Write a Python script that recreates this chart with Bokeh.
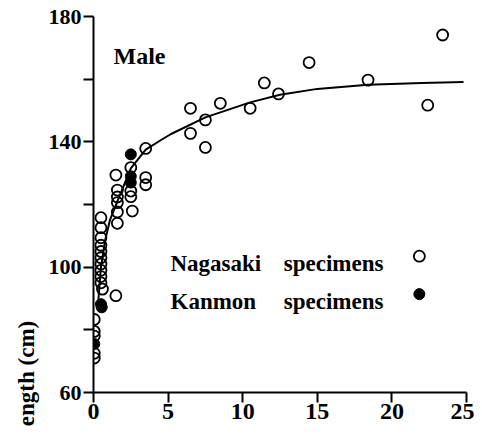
from bokeh.plotting import figure
from bokeh.models import FixedTicker, Label, Range1d, Title
from bokeh.embed import file_html
from bokeh.resources import INLINE

# ---- data ----
nagasaki_age = [0.05, 0.05, 0.05, 0.05, 0.05,
                0.5, 0.5, 0.5, 0.5, 0.5, 0.5, 0.5, 0.5, 0.5, 0.5, 0.6,
                1.5, 1.6, 1.6, 1.6, 1.6, 1.6, 1.5,
                2.5, 2.5, 2.5, 2.6,
                3.5, 3.5, 3.5,
                6.5, 6.5, 7.5, 7.5, 8.5, 10.5, 11.45, 12.4, 14.45, 18.4, 22.4, 23.4]
nagasaki_len = [83.3, 79.5, 78.0, 72.5, 71.0,
                115.8, 112.6, 109.4, 107.0, 105.0, 103.0, 101.0, 99.0, 97.0, 95.0, 93.0,
                129.4, 124.6, 122.4, 120.6, 117.6, 114.0, 90.9,
                131.8, 124.3, 122.5, 117.9,
                137.9, 128.6, 126.3,
                150.7, 142.7, 147.0, 138.2, 152.3, 150.7, 158.8, 155.3, 165.3, 159.7, 151.7, 174.1]
kanmon_age = [2.5, 2.5, 2.5, 0.5, 0.55, 0.05]
kanmon_len = [136.0, 129.0, 127.0, 88.2, 87.2, 75.5]

curve_age = [0.3, 0.5, 0.8, 1.1, 1.6, 2.5, 3.5, 4.5, 5.2, 7.5, 10.5, 12.5, 15.0, 18.4, 22.0, 24.8]
curve_len = [88.0, 100.0, 109.0, 115.0, 121.0, 131.5, 137.5, 140.5, 142.5, 147.8, 152.6, 155.0, 156.9, 158.2, 158.8, 159.1]

x_ticks = [0, 5, 10, 15, 20, 25]
y_ticks = [60, 100, 140, 180]
y_minor = [80, 120, 160]

FONT = "Liberation Serif"

p = figure(width=474, height=427, output_backend="svg", toolbar_location=None,
           x_range=Range1d(0, 25), y_range=Range1d(60, 180),
           min_border_left=93, min_border_right=8, min_border_top=16, min_border_bottom=35)
p.outline_line_color = None
p.background_fill_color = "white"
p.border_fill_color = "white"
p.xgrid.visible = False
p.ygrid.visible = False

for ax in (p.xaxis, p.yaxis):
    ax.axis_line_width = 2
    ax.axis_line_color = "black"
    ax.major_tick_line_width = 2
    ax.major_tick_line_color = "black"
    ax.minor_tick_line_width = 2
    ax.minor_tick_line_color = "black"
    ax.major_tick_in = 0
    ax.major_tick_out = 10
    ax.minor_tick_in = 0
    ax.major_label_text_font = FONT
    ax.major_label_text_font_style = "bold"
    ax.major_label_text_color = "black"

p.xaxis.ticker = FixedTicker(ticks=x_ticks)
p.xaxis.minor_tick_out = 0
p.xaxis.major_label_text_font_size = "24px"
p.xaxis.major_label_standoff = 1
p.yaxis.ticker = FixedTicker(ticks=y_ticks, minor_ticks=y_minor)
p.yaxis.minor_tick_out = 10
p.yaxis.major_label_text_font_size = "22px"
p.yaxis.major_label_standoff = 2

# vertical axis caption, placed as a left-side title (partly below the frame, as in the scan)
p.add_layout(Title(text="Length  (cm)", align="left", offset=-49, standoff=14,
                   text_font=FONT, text_font_style="bold", text_font_size="23px",
                   text_color="black"), "left")

p.line(curve_age, curve_len, line_color="black", line_width=2)
p.scatter(nagasaki_age, nagasaki_len, marker="circle", size=11,
          fill_alpha=0, line_color="black", line_width=1.8)
p.scatter(kanmon_age, kanmon_len, marker="circle", size=11,
          fill_color="black", line_color="black", line_width=1)

# legend-like texts and markers
p.scatter([21.84], [103.5], marker="circle", size=11, fill_alpha=0,
          line_color="black", line_width=1.8)
p.scatter([21.84], [91.4], marker="circle", size=11, fill_color="black",
          line_color="black")

def lab(x, y, t, size="23px", **kw):
    p.add_layout(Label(x=x, y=y, text=t, text_font=FONT, text_font_style="bold",
                       text_font_size=size, text_color="black",
                       text_baseline="alphabetic", **kw))

lab(1.34, 167.5, "Male", size="24px")
lab(5.16, 101.3, "Nagasaki")
lab(12.75, 101.3, "specimens")
lab(5.16, 89.1, "Kanmon")
lab(12.75, 89.1, "specimens")

open("out.html", "w").write(file_html(p, INLINE))
